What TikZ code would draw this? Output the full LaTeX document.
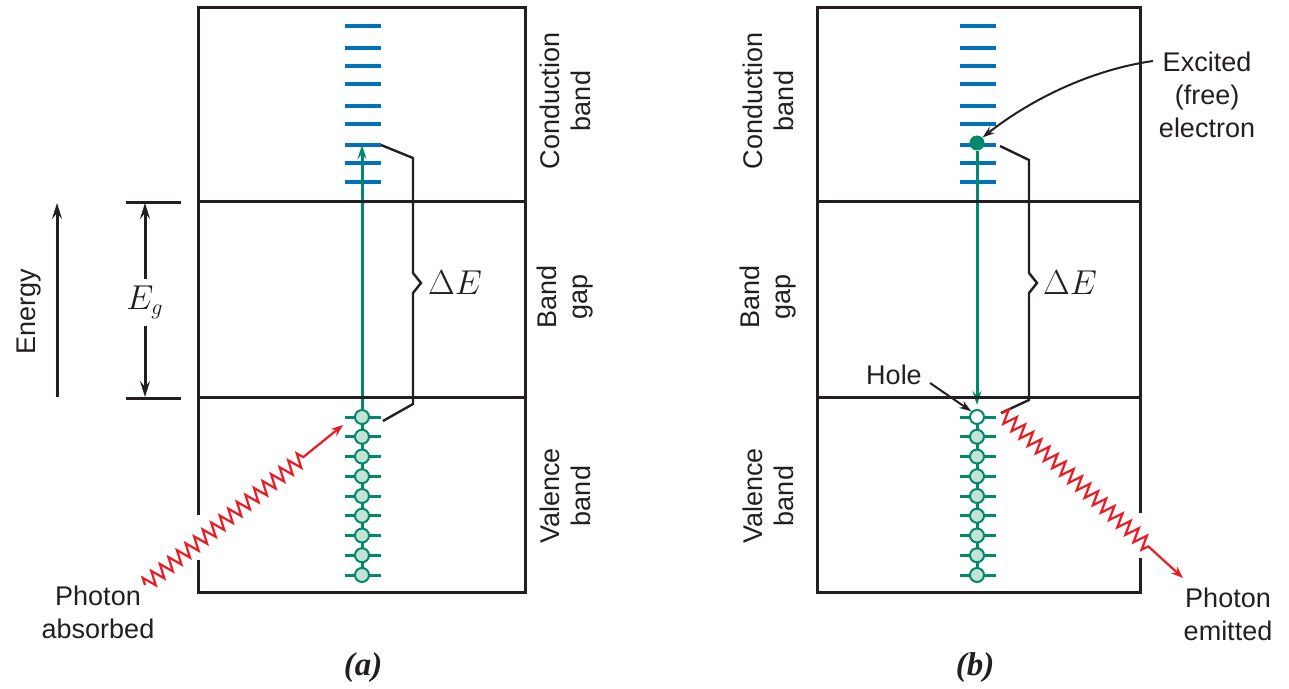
\documentclass[tikz,border=0pt]{standalone}
\usepackage{fontspec}
\setsansfont{Liberation Sans}
\newfontfamily\capfont{Liberation Serif}
\usetikzlibrary{arrows.meta,decorations.pathmorphing}
\definecolor{ink}{HTML}{231F20}
\definecolor{lvblue}{HTML}{0072BC}
\definecolor{egreen}{HTML}{00896A}
\definecolor{lgreen}{HTML}{C4E3D4}
\definecolor{phred}{HTML}{ED1C24}
\begin{document}
\begin{tikzpicture}[x=0.5pt,y=-0.5pt,
  frame/.style={draw=ink, line width=1.5pt},
  level/.style={draw=lvblue, line width=1.6pt},
  chain/.style={draw=egreen, line width=1.5pt},
  tickmark/.style={draw=egreen, line width=1.5pt},
  elec/.style={circle, draw=egreen, fill=lgreen, line width=1pt, minimum size=7pt, inner sep=0pt},
  holeel/.style={elec, fill=white},
  freeel/.style={circle, fill=egreen, minimum size=7.5pt, inner sep=0pt},
  bracket/.style={draw=ink, line width=1.2pt},
  lab/.style={font=\sffamily\fontsize{13.5}{16.5}\selectfont, align=center, text=ink},
  side/.style={rotate=90, font=\sffamily\fontsize{13.5}{15.5}\selectfont, align=center, text=ink},
  ptr/.style={draw=ink, line width=1pt, -{Stealth[length=6pt,width=4pt]}},
  garrow/.style={chain, -{Stealth[length=7pt,width=4.5pt,inset=2.5pt]}},
  karrow/.style={frame, -{Stealth[length=8pt,width=5pt,inset=3pt]}},
  photon/.style={draw=phred, line width=1.1pt, -{Stealth[length=6pt,width=4.5pt]},
    decorate, decoration={zigzag, segment length=5.5pt, amplitude=3.5pt, post length=24pt}},
  mathlab/.style={font=\fontsize{16}{19}\selectfont, text=ink},
  caplab/.style={font=\capfont\bfseries\itshape\fontsize{16.5}{20}\selectfont, text=ink}
]
\useasboundingbox (0,0) rectangle (1289,689);

% ---------------- Panel (a) ----------------
\foreach \y [count=\i] in {26,48,66,84,106,124,145,163,182}{
  \coordinate (aL\i) at (345,\y);
  \coordinate (aR\i) at (381,\y);
  \draw[level] (aL\i) -- (aR\i);
}
\coordinate (aTop) at (362,145);
\foreach \i in {1,...,9}{
  \coordinate (aV\i) at (362,{417+(\i-1)*19.75});
}
\draw[chain] (aV1) -- (aV9);
\foreach \i in {1,...,9}{
  \draw[tickmark] ([xshift=-8.5pt]aV\i) -- ([xshift=9.5pt]aV\i);
  \node[elec] (a\i) at (aV\i) {};
}
\draw[garrow] (a1.north) -- (aTop);

\draw[frame] (198,515) -- (198,8) -- (525,8) -- (525,592) -- (198,592) -- (198,560);
\draw[frame] (198,202) -- (525,202);
\draw[frame] (198,397) -- (525,397);

% bracket Delta E (a)
\draw[bracket] (aR7) -- (413,158) -- (413,273) -- (421,283) -- (413,293) -- (413,404) -- (383,421);
\node[mathlab] (dEa) at (455,283) {$\Delta E$};

% Energy arrow
\coordinate (eBot) at (57,397);
\coordinate (eTop) at (57,203);
\draw[karrow] (eBot) -- (eTop);
\node[side] (energy) at (29,312) {Energy};

% E_g
\coordinate (gT1) at (126,203); \coordinate (gT2) at (181,203);
\coordinate (gB1) at (126,398); \coordinate (gB2) at (181,398);
\draw[frame] (gT1) -- (gT2);
\draw[frame] (gB1) -- (gB2);
\node[mathlab] (Eg) at (145,302) {$E_g$};
\coordinate (gTop) at (145,203);
\coordinate (gBot) at (145,397);
\draw[karrow] (145,279) -- (gTop);
\draw[karrow] (145,326) -- (gBot);

% side labels (a)
\node[side] (cbA) at (565,101) {Conduction\\band};
\node[side] (bgA) at (565,297) {Band\\gap};
\node[side] (vbA) at (565,496) {Valence\\band};

% photon absorbed
\coordinate (phA0) at (145,585);
\draw[photon] (phA0) -- (343,425);
\node[lab] (phAt) at (98,612) {Photon\\absorbed};

\node[caplab] (capA) at (363,668) {(a)};

% ---------------- Panel (b) ----------------
\foreach \y [count=\i] in {26,48,66,84,106,124,145,163,182}{
  \coordinate (bL\i) at (960,\y);
  \coordinate (bR\i) at (996,\y);
  \draw[level] (bL\i) -- (bR\i);
}
\foreach \i in {1,...,9}{
  \coordinate (bV\i) at (977,{417+(\i-1)*19.75});
}
\draw[chain] (bV1) -- (bV9);
\foreach \i in {1,...,9}{
  \draw[tickmark] ([xshift=-8.5pt]bV\i) -- ([xshift=9.5pt]bV\i);
}
\node[holeel] (b1) at (bV1) {};
\foreach \i in {2,...,9}{
  \node[elec] (b\i) at (bV\i) {};
}
\node[freeel] (fe) at (977,143) {};
\draw[garrow, shorten >=2pt] (fe.south) -- (b1.north);

\draw[frame] (1140,513) -- (1140,8) -- (817,8) -- (817,592) -- (1140,592) -- (1140,558);
\draw[frame] (817,202) -- (1140,202);
\draw[frame] (817,397) -- (1140,397);

% bracket Delta E (b)
\draw[bracket] (1000,146) -- (1029,160) -- (1029,273) -- (1037,283) -- (1029,293) -- (1029,400) -- (1001,413);
\node[mathlab] (dEb) at (1070,283) {$\Delta E$};

% side labels (b)
\node[side] (cbB) at (768,101) {Conduction\\band};
\node[side] (bgB) at (768,297) {Band\\gap};
\node[side] (vbB) at (768,496) {Valence\\band};

% excited electron
\node[lab] (exc) at (1207,95) {Excited\\(free)\\electron};
\coordinate (excA) at (1153,61);
\draw[ptr] (excA) .. controls (1090,70) and (1030,100) .. (fe.north east);

% hole
\node[lab] (holeT) at (894,375) {Hole};
\coordinate (holeA) at (930,383);
\draw[ptr] (holeA) -- (b1.north west);

% photon emitted
\coordinate (phB0) at (1002,413);
\draw[photon, decoration={post length=23pt}] (phB0) -- (1183,578);
\node[lab] (phBt) at (1228,614) {Photon\\emitted};

\node[caplab] (capB) at (975,668) {(b)};
\end{tikzpicture}
\end{document}
